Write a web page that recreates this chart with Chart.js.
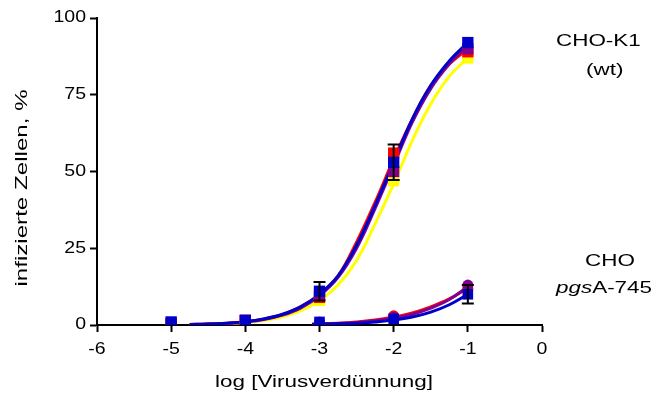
<!DOCTYPE html>
<html>
<head>
<meta charset="utf-8">
<script src="https://cdn.jsdelivr.net/npm/chart.js@4.4.0/dist/chart.umd.min.js"></script>
<style>
  html, body { margin: 0; padding: 0; background: #fff; }
  #wrap { width: 660px; height: 394px; }
</style>
</head>
<body>
<div id="wrap"><canvas id="chart"></canvas></div>
<script>
// Messpunkte (log Verdünnung)
var doseX = [-5, -4, -3, -2, -1];
var wtRot    = [0.5, 1.5, 9, 56, 89];
var wtGelb   = [0.3, 1, 8, 47, 87];
var wtLila   = [0.5, 1.5, 10, 50, 90];
var wtBlau   = [1, 1.5, 11, 53, 92];
var wtErr    = [0, 0, 3, 5.8, 0];

var pgsX = [-3, -2, -1];
var pgsRot  = [1, 3, 12];
var pgsLila = [0.8, 2.5, 13];
var pgsBlau = [1, 2, 10];
var pgsErr  = [0, 0, 3];

var fitX = [-4.75, -4.5, -4.25, -4, -3.75, -3.5, -3.25, -3, -2.75, -2.5, -2.25, -2, -1.75, -1.5, -1.25, -1];
var fitRot  = [0.2, 0.3, 0.6, 1.1, 2, 3.4, 6, 10, 16, 27, 40, 54, 67, 78, 85, 90];
var fitGelb = [0.1, 0.2, 0.4, 0.8, 1.5, 2.7, 4.7, 8, 13, 21, 33, 46, 60, 72, 81, 87];
var fitLila = [0.1, 0.3, 0.5, 1, 1.8, 3.2, 5.6, 9.5, 15.5, 25, 38, 52, 66, 77, 85, 91];
var fitBlau = [0.2, 0.3, 0.6, 1.1, 2, 3.5, 6, 10, 16, 26, 39, 53, 67, 78, 86, 92];

var fit2X = [-3.1, -2.75, -2.5, -2.25, -2, -1.75, -1.5, -1.25, -1];
var fit2Rot  = [0.3, 0.6, 1, 1.6, 2.6, 3.9, 5.9, 8.5, 12];
var fit2Lila = [0.2, 0.5, 0.8, 1.4, 2.2, 3.5, 5.5, 8.3, 12.5];
var fit2Blau = [0.2, 0.4, 0.6, 1, 1.6, 2.6, 4.2, 6.6, 10];

var xTicks = [-6, -5, -4, -3, -2, -1, 0];
var yTicks = [0, 25, 50, 75, 100];

var ROT = '#ff0000', GELB = '#ffff00', LILA = '#800090', BLAU = '#0000c8';
var SCHRIFT = '"Liberation Sans", Arial, sans-serif';

function pts(xs, ys) {
    return xs.map(function (x, i) { return { x: x, y: ys[i] }; });
}

function kurve(xs, ys, farbe) {
    return { type: 'line', data: pts(xs, ys), borderColor: farbe, borderWidth: 3,
             pointRadius: 0, tension: 0.4, fill: false };
}

function punkte(xs, ys, farbe, form, r, err) {
    return { type: 'scatter', data: pts(xs, ys), backgroundColor: farbe, borderColor: farbe,
             pointStyle: form, pointRadius: r, borderWidth: 0, errors: err };
}

// breit gezogener Text wie im Original
function text(ctx, s, x, y, align, size, sx) {
    ctx.save();
    ctx.translate(x, y);
    ctx.scale(sx, 1);
    ctx.font = size + 'px ' + SCHRIFT;
    ctx.textAlign = align;
    ctx.textBaseline = 'middle';
    ctx.fillText(s, 0, 0);
    ctx.restore();
}

// Fehlerbalken zeichnen
var fehlerPlugin = {
    id: 'fehler',
    afterDatasetsDraw: function (chart) {
        var ctx = chart.ctx, xs = chart.scales.x, ys = chart.scales.y;
        ctx.save();
        ctx.strokeStyle = '#000';
        ctx.lineWidth = 2;
        chart.data.datasets.forEach(function (ds) {
            if (!ds.errors) return;
            ds.data.forEach(function (p, i) {
                var e = ds.errors[i];
                if (!e) return;
                var px = xs.getPixelForValue(p.x);
                var top = ys.getPixelForValue(p.y + e), bot = ys.getPixelForValue(p.y - e);
                ctx.beginPath();
                ctx.moveTo(px, top); ctx.lineTo(px, bot);
                ctx.moveTo(px - 6, top); ctx.lineTo(px + 6, top);
                ctx.moveTo(px - 6, bot); ctx.lineTo(px + 6, bot);
                ctx.stroke();
            });
        });
        ctx.restore();
    }
};

// Achsenbeschriftung und Text rechts
var textPlugin = {
    id: 'beschriftung',
    afterDraw: function (chart) {
        var ctx = chart.ctx, xs = chart.scales.x, ys = chart.scales.y;
        ctx.save();
        ctx.fillStyle = '#000';
        xTicks.forEach(function (v) {
            text(ctx, String(v), xs.getPixelForValue(v), 350, 'center', 16, 1.22);
        });
        yTicks.forEach(function (v) {
            text(ctx, String(v), 86, ys.getPixelForValue(v), 'right', 16, 1.22);
        });
        text(ctx, 'log [Virusverdünnung]', 324, 382, 'center', 17, 1.32);

        ctx.save();
        ctx.translate(22, 188);
        ctx.rotate(-Math.PI / 2);
        text(ctx, 'infizierte Zellen, %', 0, 0, 'center', 17, 1.42);
        ctx.restore();

        text(ctx, 'CHO-K1', 556, 41, 'left', 17, 1.32);
        text(ctx, '(wt)', 586, 70, 'left', 17, 1.32);
        text(ctx, 'CHO', 585, 261, 'left', 17, 1.32);

        // pgsA-745 mit kursivem Teil
        ctx.save();
        ctx.translate(556, 288);
        ctx.scale(1.32, 1);
        ctx.textBaseline = 'middle';
        ctx.textAlign = 'left';
        ctx.font = 'italic 17px ' + SCHRIFT;
        ctx.fillText('pgs', 0, 0);
        var w = ctx.measureText('pgs').width;
        ctx.font = '17px ' + SCHRIFT;
        ctx.fillText('A-745', w, 0);
        ctx.restore();

        ctx.restore();
    }
};

var achse = {
    display: true,
    drawOnChartArea: false,
    drawTicks: true,
    tickLength: 7,
    tickWidth: 2,
    color: '#000'
};

// Reihenfolge: erster Datensatz liegt oben
new Chart(document.getElementById('chart').getContext('2d'), {
    data: {
        datasets: [
            punkte(doseX, wtBlau, BLAU, 'rect', 8, wtErr),
            punkte(doseX, wtLila, LILA, 'rect', 8, null),
            punkte(doseX, wtRot, ROT, 'rect', 8, null),
            punkte(doseX, wtGelb, GELB, 'rect', 8, null),
            punkte(pgsX, pgsBlau, BLAU, 'rect', 7.5, pgsErr),
            punkte(pgsX, pgsLila, LILA, 'circle', 5.5, null),
            punkte(pgsX, pgsRot, ROT, 'circle', 5.5, null),
            kurve(fitX, fitBlau, BLAU),
            kurve(fitX, fitLila, LILA),
            kurve(fitX, fitRot, ROT),
            kurve(fitX, fitGelb, GELB),
            kurve(fit2X, fit2Blau, BLAU),
            kurve(fit2X, fit2Lila, LILA),
            kurve(fit2X, fit2Rot, ROT)
        ]
    },
    options: {
        responsive: true,
        maintainAspectRatio: false,
        animation: false,
        layout: { padding: { left: 0, top: 18, right: 118, bottom: 0 } },
        plugins: { legend: { display: false }, tooltip: { enabled: false } },
        scales: {
            x: {
                type: 'linear', min: -6, max: 0,
                afterBuildTicks: function (s) { s.ticks = xTicks.map(function (v) { return { value: v }; }); },
                afterFit: function (s) { s.height = 69; },
                grid: achse,
                border: { display: true, color: '#000', width: 2 },
                ticks: { display: false }
            },
            y: {
                type: 'linear', min: 0, max: 100,
                afterBuildTicks: function (s) { s.ticks = yTicks.map(function (v) { return { value: v }; }); },
                afterFit: function (s) { s.width = 97; },
                grid: achse,
                border: { display: true, color: '#000', width: 2 },
                ticks: { display: false }
            }
        }
    },
    plugins: [fehlerPlugin, textPlugin]
});
</script>
</body>
</html>
